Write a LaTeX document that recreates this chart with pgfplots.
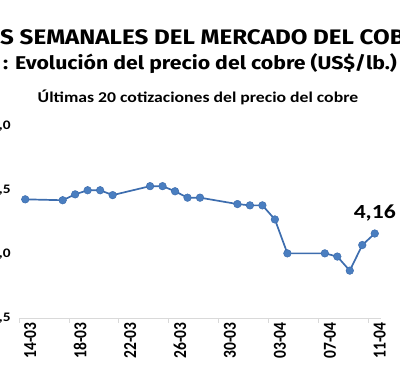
\documentclass[border=0pt]{standalone}
\usepackage{fontspec}
\setmainfont{Carlito}[FakeStretch=1.18]
\newfontfamily\carl{Carlito}
\newfontfamily\fira{Fira Sans}[FakeStretch=1.15]
\usepackage{pgfplots}
\pgfplotsset{compat=1.18}
\definecolor{lineblue}{HTML}{3D6DAE}
\definecolor{markblue}{HTML}{4A7EC0}
\definecolor{axisgray}{HTML}{D9D9D9}
\newcommand{\xl}[1]{\scalebox{1}[1.18]{#1}}
\begin{document}
\begin{tikzpicture}[x=1pt,y=1pt]
\begin{axis}[
  at={(19pt,61pt)}, anchor=south west,
  scale only axis, width=362pt, height=192pt,
  xmin=0, xmax=29, ymin=3.5, ymax=5,
  axis x line*=bottom, axis y line*=left,
  x axis line style={axisgray, line width=0.8pt},
  y axis line style={draw=none},
  ytick={3.5,4,4.5,5},
  ytick style={draw=none},
  yticklabel={\pgfmathprintnumber[fixed,fixed zerofill,precision=1,use comma,assume math mode=true]{\tick}},
  yticklabel style={font=\bfseries\fontsize{13}{15}\selectfont, inner sep=0pt, anchor=east, xshift=-4pt},
  xtick={0.5,4.5,...,28.5},
  xticklabels={\xl{14-03},\xl{18-03},\xl{22-03},\xl{26-03},\xl{30-03},\xl{03-04},\xl{07-04},\xl{11-04}},
  xticklabel style={font=\carl\bfseries\fontsize{15.5}{17}\selectfont, rotate=90, anchor=east, inner sep=0pt, yshift=-5pt},
  major x tick style={draw=none},
  minor xtick={0,4,...,28},
  minor x tick style={axisgray, line width=0.8pt},
  minor tick length=5pt,
  tick align=outside,
  clip=false,
]
\addplot[color=lineblue, line width=1.7pt, mark=*, mark size=3.8pt,
  mark options={fill=markblue, draw=lineblue, line width=0.5pt}]
  coordinates {
  (0.5,4.427) (3.5,4.42) (4.5,4.466) (5.5,4.498) (6.5,4.498) (7.5,4.46)
  (10.5,4.53) (11.5,4.53) (12.5,4.49) (13.5,4.44) (14.5,4.44)
  (17.5,4.39) (18.5,4.38) (19.5,4.38) (20.5,4.27) (21.5,4.005)
  (24.5,4.005) (25.5,3.98) (26.5,3.87) (27.5,4.07) (28.5,4.16)
  };
\node[anchor=base, font=\bfseries\fontsize{20}{24}\selectfont, inner sep=0pt, yshift=15pt] at (axis cs:28.5,4.16) {4,16};
\end{axis}
\node[anchor=base west, font=\fira\bfseries\fontsize{21}{25}\selectfont, inner sep=0pt] at (0,334) {S SEMANALES DEL MERCADO DEL COB};
\node[anchor=base west, font=\fira\bfseries\fontsize{18.5}{22}\selectfont, inner sep=0pt] at (3,309) {: Evolución del precio del cobre (US\$/lb.)};
\node[anchor=base, font=\bfseries\fontsize{15}{18}\selectfont, inner sep=0pt] at (198,276) {Últimas 20 cotizaciones del precio del cobre};
\pgfresetboundingbox
\useasboundingbox (0,0) rectangle (400,379);
\end{tikzpicture}
\end{document}
